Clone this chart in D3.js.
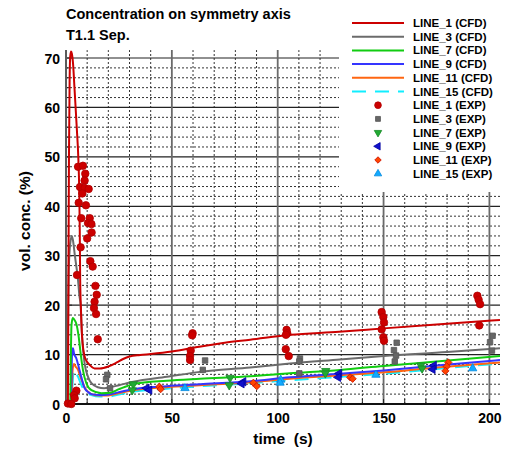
<!DOCTYPE html>
<html>
<head>
<meta charset="utf-8">
<script src="https://cdn.jsdelivr.net/npm/d3@7"></script>
<style>
  html, body { margin: 0; padding: 0; background: #fff; }
  svg text { font-family: "Liberation Sans", Arial, Helvetica, sans-serif; font-weight: bold; fill: #000; }
</style>
</head>
<body>
<svg id="chart" width="506" height="451"></svg>
<script>
// ---- CFD series: [time (s), vol. conc. (%)] ----
const line1Cfd = [[0,0],[0.9,0],[1.1,20],[1.4,50],[1.7,65],[2.0,70.3],[2.4,71.3],[2.8,70.8],[3.3,69],[4,64],[4.6,59.5],[5.2,55],[5.8,50],[6.3,42],[6.5,35],[6.7,25],[7.0,20],[7.6,13.6],[8.8,9.6],[10,8.5],[11.2,7.9],[13.5,7.2],[16,7.2],[20,7.6],[24,8.4],[27,9.1],[30,9.6],[35,9.9],[40,10.1],[50,10.6],[63,11.6],[75,12.4],[87,13.0],[106,14.0],[129,14.6],[150,15.3],[175,16.1],[205,17.0]];
const line3Cfd = [[0,0],[0.6,0],[0.9,15],[1.3,27],[2.0,32.5],[2.8,34],[3.5,32.5],[4.2,30],[4.9,27.8],[5.7,25],[6.3,22],[6.9,20],[7.6,13.6],[8.8,8.2],[10.4,5.5],[12,4.2],[15,3.4],[18,3.2],[21,3.4],[25,3.8],[31.8,4.5],[47.6,5.5],[63.3,6.5],[87,7.4],[105.8,8.2],[129.4,9.0],[153,9.8],[180,10.5],[205,11.3]];
const line7Cfd = [[0,0],[2.0,0],[2.3,10],[2.6,16],[3.2,17.4],[4.0,17],[4.9,16.2],[6.0,13.6],[6.9,10.3],[8.0,6.9],[9.6,4.2],[12,2.8],[16.7,2.2],[21,2.3],[25,3.0],[31.8,4.0],[47.6,4.7],[63.3,5.1],[87,5.6],[105.8,6.2],[129.4,6.9],[150,7.7],[175,8.6],[205,9.7]];
const line9Cfd = [[0,0],[2.4,0],[2.7,8],[3.0,11],[3.3,11.3],[3.8,10.2],[4.9,9.2],[6,7.5],[7.2,5.5],[8.8,3.2],[10.5,2.4],[12,2.0],[16,1.8],[20,1.9],[25,2.4],[31.8,3.0],[47.6,3.6],[63.3,4.0],[87,4.6],[105.8,5.4],[129.4,6.1],[150,6.8],[175,7.8],[205,8.9]];
const line11Cfd = [[0,0],[2.6,0],[2.9,5],[3.3,7.5],[3.8,8.1],[4.5,7.6],[5.7,6.9],[6.8,5.5],[8,4.2],[9,3.2],[10.4,2.5],[12,2.0],[16,1.7],[20,1.7],[25,2.2],[31.8,2.8],[47.6,3.4],[63.3,3.8],[87,4.4],[105.8,5.1],[129.4,5.8],[150,6.4],[175,7.4],[205,8.4]];
const line15Cfd = [[0,0],[2.8,0],[3.1,4],[3.5,6.3],[3.8,6.9],[4.5,6.3],[5.7,5.5],[6.8,4.3],[8,3.2],[9.5,2.4],[12,1.8],[16,1.5],[20,1.5],[25,1.9],[31.8,2.5],[47.6,3.1],[63.3,3.6],[87,4.2],[105.8,4.8],[129.4,5.5],[150,6.1],[175,7.1],[205,8.2]];

// ---- Experimental series: [time (s), vol. conc. (%)] ----
const line1Exp = [[5.7,48],[8,48.2],[9.1,46.6],[8.8,45.2],[6.6,43.9],[8.8,43.7],[10.7,43.5],[7.7,42.6],[6,40.7],[9.4,40.2],[7.2,37.6],[11.2,37.6],[10.4,36.6],[12,36.4],[12.1,34.7],[10,33.5],[6.9,31.7],[11.5,28.9],[12.6,27.8],[5.2,26.1],[13.9,23.9],[14.5,22.1],[13.5,20.7],[13.2,19.4],[14.2,18.2],[15,13.1],[4.9,2.7],[3.8,1.8],[4.1,1.15],[0.9,0.1],[2.5,0],
  [59.8,14.3],[59.6,13.9],[58.9,10.8],[58.6,9.7],[58.6,8.9],
  [104.2,15],[104.5,14.3],[103.9,14],[103.8,11.1],[105.2,9.7],
  [149.1,18.6],[149.9,17.6],[150.2,16.5],[149.1,15.1],[149.9,13.5],[150.2,12.8],
  [194.3,21.9],[194.9,21.1],[195.6,20.2],[195.2,15.9]];
const line3Exp = [[19.5,5.9],[18.9,5],[20.8,3.2],[65.7,8.8],[64.6,6.9],[110.5,9.2],[110.2,8.6],[110.2,6.2],[156.2,12.4],[154.9,10.9],[155.9,9.8],[155.3,8.6],[201.5,13.8],[200.3,12.5],[201.2,10.8]];
const line7Exp = [[31.8,4.0],[31.3,2.8],[77.5,5.3],[77.1,3.8],[122.7,6.7],[122.5,6.2],[167.6,7.8],[168.2,7.2]];
const line9Exp = [[38.1,3.2],[39.4,2.8],[83.8,4.5],[83,4.1],[129.1,6.2],[128.6,5.4],[173.8,7.8],[173.2,7.0]];
const line11Exp = [[44.1,3.5],[44.7,3.0],[88.5,4.3],[90.1,3.6],[134.2,5.4],[135.4,5.1],[180.6,8.4],[179.8,7.6],[179.2,6.7]];
const line15Exp = [[56.2,3.2],[101.4,4.9],[101.1,4.3],[146.4,5.9],[192.1,7.2]];

// ---- Axis ticks ----
const xTicks = [0, 50, 100, 150, 200];
const yTicks = [0, 10, 20, 30, 40, 50, 60, 70];

const cfdSeries = [
  { name: "LINE_1 (CFD)",  data: line1Cfd,  color: "#cc0000", dash: null },
  { name: "LINE_3 (CFD)",  data: line3Cfd,  color: "#6b6b6b", dash: null },
  { name: "LINE_7 (CFD)",  data: line7Cfd,  color: "#11cc11", dash: null },
  { name: "LINE_9 (CFD)",  data: line9Cfd,  color: "#3535ff", dash: null },
  { name: "LINE_11 (CFD)", data: line11Cfd, color: "#ff6611", dash: null },
  { name: "LINE_15 (CFD)", data: line15Cfd, color: "#11eeff", dash: "14,9" }
];
const expSeries = [
  { name: "LINE_1 (EXP)",  data: line1Exp,  color: "#cc0000", stroke: "#b00000", symbol: d3.symbolCircle,   size: 44, rot: 0 },
  { name: "LINE_3 (EXP)",  data: line3Exp,  color: "#666666", stroke: "#555555", symbol: d3.symbolSquare,   size: 30, rot: 0 },
  { name: "LINE_7 (EXP)",  data: line7Exp,  color: "#22aa33", stroke: "#178a26", symbol: d3.symbolTriangle, size: 30, rot: 180 },
  { name: "LINE_9 (EXP)",  data: line9Exp,  color: "#1010cc", stroke: "#0000a0", symbol: d3.symbolTriangle, size: 30, rot: -90 },
  { name: "LINE_11 (EXP)", data: line11Exp, color: "#ff4400", stroke: "#cc1100", symbol: d3.symbolSquare,   size: 26, rot: 45 },
  { name: "LINE_15 (EXP)", data: line15Exp, color: "#11aaff", stroke: "#0088dd", symbol: d3.symbolTriangle, size: 30, rot: 0 }
];

const svg = d3.select("#chart");
const x = d3.scaleLinear().domain([0, 205]).range([66, 500]);
const y = d3.scaleLinear().domain([0, 71.6]).range([404, 50.1]);

const grid = svg.append("g");
// minor grid
d3.range(10, 205, 10).filter(v => v % 50 !== 0).forEach(v => {
  grid.append("line").attr("x1", x(v)).attr("x2", x(v)).attr("y1", y(0)).attr("y2", y(71.6))
    .attr("stroke", "#333").attr("stroke-width", 1).attr("stroke-dasharray", "2,2");
});
d3.range(2, 71.6, 2).filter(v => v % 10 !== 0).forEach(v => {
  grid.append("line").attr("x1", x(0)).attr("x2", x(205)).attr("y1", y(v)).attr("y2", y(v))
    .attr("stroke", "#333").attr("stroke-width", 1).attr("stroke-dasharray", "2,2");
});
// major grid
yTicks.filter(v => v > 0).forEach(v => {
  grid.append("line").attr("x1", x(0)).attr("x2", x(205)).attr("y1", y(v)).attr("y2", y(v))
    .attr("stroke", "#222").attr("stroke-width", 1.2);
});
xTicks.filter(v => v > 0).forEach(v => {
  grid.append("line").attr("x1", x(v)).attr("x2", x(v)).attr("y1", y(0)).attr("y2", y(71.6))
    .attr("stroke", "#6a6a6a").attr("stroke-width", 1.8);
});

// axes
const xAxis = d3.axisBottom(x).tickValues(xTicks).tickSize(0).tickPadding(9).tickFormat(d3.format("d"));
const yAxis = d3.axisLeft(y).tickValues(yTicks).tickSize(0).tickPadding(6).tickFormat(d3.format("d"));
const gx = svg.append("g").attr("transform", `translate(0,${y(0)})`).call(xAxis);
const gy = svg.append("g").attr("transform", `translate(${x(0)},0)`).call(yAxis);
gx.select(".domain").remove();
gy.select(".domain").remove();
gx.selectAll("text").attr("font-size", 14).attr("font-family", null);
gy.selectAll("text").attr("font-size", 14).attr("font-family", null).attr("dy", "0.36em");

// inner tick marks
d3.range(0, 71.6, 2).forEach(v => {
  svg.append("line").attr("x1", x(0)).attr("x2", x(0) + (v % 10 === 0 ? 6 : 4))
    .attr("y1", y(v)).attr("y2", y(v)).attr("stroke", "#222").attr("stroke-width", 1);
});
d3.range(0, 205, 10).forEach(v => {
  svg.append("line").attr("x1", x(v)).attr("x2", x(v))
    .attr("y1", y(0)).attr("y2", y(0) - 5).attr("stroke", "#222").attr("stroke-width", 1);
});

// axis lines
svg.append("line").attr("x1", x(0)).attr("x2", x(0)).attr("y1", y(0) + 1).attr("y2", y(71.6))
  .attr("stroke", "#5a5a5a").attr("stroke-width", 2);
svg.append("line").attr("x1", x(0) - 1).attr("x2", x(205)).attr("y1", y(0)).attr("y2", y(0))
  .attr("stroke", "#111").attr("stroke-width", 2);

// CFD curves
const lineGen = d3.line().x(d => x(d[0])).y(d => y(d[1])).curve(d3.curveMonotoneX);
svg.append("clipPath").attr("id", "plotClip").append("rect")
  .attr("x", x(0)).attr("y", y(71.6) - 2).attr("width", x(205) - x(0)).attr("height", y(0) - y(71.6) + 2);
const curves = svg.append("g").attr("clip-path", "url(#plotClip)");
cfdSeries.slice().reverse().forEach(s => {
  curves.append("path").datum(s.data).attr("d", lineGen)
    .attr("fill", "none").attr("stroke", s.color).attr("stroke-width", 2)
    .attr("stroke-dasharray", s.dash);
});

// experimental markers
const marks = svg.append("g");
expSeries.slice().reverse().forEach(s => {
  const sym = d3.symbol().type(s.symbol).size(s.size);
  marks.selectAll(null).data(s.data).enter().append("path")
    .attr("d", sym)
    .attr("transform", d => `translate(${x(d[0])},${y(d[1])}) rotate(${s.rot})`)
    .attr("fill", s.color).attr("stroke", s.stroke).attr("stroke-width", 0.8);
});

// titles
svg.append("text").attr("x", 66).attr("y", 18.5).attr("font-size", 14.5).text("Concentration on symmetry axis");
svg.append("text").attr("x", 66).attr("y", 39.5).attr("font-size", 14.5).text("T1.1 Sep.");
svg.append("text").attr("x", 283).attr("y", 444).attr("text-anchor", "middle").attr("font-size", 15.5)
  .attr("xml:space", "preserve").text("time  (s)");
svg.append("text").attr("transform", "translate(30,221) rotate(-90)").attr("text-anchor", "middle")
  .attr("font-size", 15.5).text("vol. conc. (%)");

// legend
const legend = svg.append("g");
legend.append("rect").attr("x", 339).attr("y", 0).attr("width", 167).attr("height", 192).attr("fill", "#fff");
const rowY = i => 23 + i * 13.7;
cfdSeries.forEach((s, i) => {
  legend.append("line").attr("x1", 352).attr("x2", 404).attr("y1", rowY(i)).attr("y2", rowY(i))
    .attr("stroke", s.color).attr("stroke-width", 2).attr("stroke-dasharray", s.dash);
  legend.append("text").attr("x", 413).attr("y", rowY(i) + 4).attr("font-size", 11.5).text(s.name);
});
expSeries.forEach((s, j) => {
  const i = j + cfdSeries.length;
  const sym = d3.symbol().type(s.symbol).size(s.size * 0.8);
  legend.append("path").attr("d", sym)
    .attr("transform", `translate(378,${rowY(i)}) rotate(${s.rot})`)
    .attr("fill", s.color).attr("stroke", s.stroke).attr("stroke-width", 0.8);
  legend.append("text").attr("x", 413).attr("y", rowY(i) + 4).attr("font-size", 11.5).text(s.name);
});
</script>
</body>
</html>
